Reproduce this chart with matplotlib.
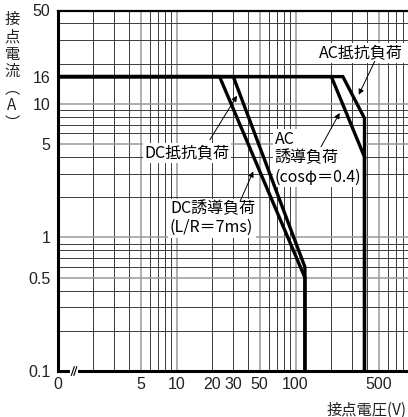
"""Contact rating chart: switching current vs. voltage (log-log)."""

import matplotlib
matplotlib.use('Agg')
import matplotlib.pyplot as plt
import matplotlib.ticker as mticker

plt.rcParams['font.family'] = ['Liberation Sans', 'Noto Sans CJK JP', 'DejaVu Sans']

# curves: voltage (V) / current (A)
dc_ind_v = [1, 23, 120, 120]
dc_ind_i = [16, 16, 0.5, 0.1]
dc_res_v = [1, 30, 120, 120]
dc_res_i = [16, 16, 0.6, 0.1]
ac_ind_v = [1, 200, 380, 380]
ac_ind_i = [16, 16, 4.0, 0.1]
ac_res_v = [1, 250, 380, 380]
ac_res_i = [16, 16, 7.8, 0.1]

x_ticks = [1, 5, 10, 20, 30, 50, 100, 500]
x_labels = ['0', '5', '10', '20', '30', '50', '100', '500']
y_ticks = [0.1, 0.5, 1, 5, 10, 16, 50]
y_labels = ['0.1', '0.5', '1', '5', '10', '16', '50']

JP = ['Noto Sans CJK JP', 'DejaVu Sans']

fig = plt.figure(figsize=(4.08, 4.17), dpi=100)
ax = fig.add_axes([57.5 / 408, 46 / 417, 357 / 408, 360.5 / 417])
ax.set_xscale('log')
ax.set_yscale('log')
ax.set_xlim(1, 1000)
ax.set_ylim(0.1, 50)

# grid: every 1..9 of each decade, 1x and 5x lines lighter
for dec in [1, 10, 100]:
    for m in range(1, 10):
        v = dec * m
        if v == 1:
            continue
        light = m in (1, 5)
        ax.axvline(v, color='#9a9a9a' if light else '#3a3a3a',
                   lw=1.1 if light else 0.7, zorder=1)
for dec in [0.1, 1, 10]:
    for m in range(1, 10):
        v = dec * m
        if v <= 0.1 or v > 50:
            continue
        light = m in (1, 5)
        ax.axhline(v, color='#9a9a9a' if light else '#3a3a3a',
                   lw=1.1 if light else 0.7, zorder=1)

for xs, ys in [(dc_ind_v, dc_ind_i), (dc_res_v, dc_res_i),
               (ac_ind_v, ac_ind_i), (ac_res_v, ac_res_i)]:
    ax.plot(xs, ys, color='black', lw=2.4, solid_joinstyle='miter', zorder=5)

ax.xaxis.set_major_locator(mticker.FixedLocator(x_ticks))
ax.xaxis.set_major_formatter(mticker.FixedFormatter(x_labels))
ax.xaxis.set_minor_locator(mticker.NullLocator())
ax.yaxis.set_major_locator(mticker.FixedLocator(y_ticks))
ax.yaxis.set_major_formatter(mticker.FixedFormatter(y_labels))
ax.yaxis.set_minor_locator(mticker.NullLocator())
ax.tick_params(axis='both', length=0, labelsize=11.5, labelcolor='#222222')
ax.tick_params(axis='x', pad=4)
ax.tick_params(axis='y', pad=5)

for side in ['left', 'bottom']:
    ax.spines[side].set_linewidth(2.2)
ax.spines['top'].set_linewidth(1.6)
ax.spines['right'].set_linewidth(1.6)

# axis break mark on the x axis
ax.plot([0.041, 0.052], [0, 0], transform=ax.transAxes, color='white',
        lw=3, clip_on=False, zorder=6)
for bx in [0.043, 0.050]:
    ax.plot([bx - 0.004, bx + 0.004], [-0.012, 0.012], transform=ax.transAxes,
            color='black', lw=0.8, clip_on=False, zorder=7)

# axis titles
fig.text(12 / 408, 1 - 11 / 417, '\n'.join('接点電流︵A︶'), family=JP,
         fontsize=11, ha='center', va='top', linespacing=1.02, color='#222222')
fig.text(327 / 408, 1 - 410 / 417, '接点電圧(V)', family=JP, fontsize=11,
         ha='left', va='center', color='#222222')

box = dict(facecolor='white', edgecolor='none', pad=1.0)
arrow = dict(arrowstyle='-|>', lw=0.7, color='black', mutation_scale=8,
             shrinkA=0, shrinkB=0)
fs = 11.5

ax.text(355, 24.2, 'AC抵抗負荷', family=JP, fontsize=fs, ha='center',
        va='center', bbox=box, zorder=4)
ax.annotate('', xy=(340, 11.7), xytext=(463, 20.8), arrowprops=arrow, zorder=5)

ax.text(67, 6.3, 'AC\n誘導負荷\n(cosφ＝0.4)', family=JP, fontsize=fs,
        ha='left', va='top', linespacing=1.15, bbox=box, zorder=4)
ax.annotate('', xy=(235, 8.55), xytext=(164, 4.78), arrowprops=arrow, zorder=5)

ax.text(12.3, 4.3, 'DC抵抗負荷', family=JP, fontsize=fs, ha='center',
        va='center', bbox=box, zorder=4)
ax.annotate('', xy=(32.2, 11.5), xytext=(19.1, 5.39), arrowprops=arrow, zorder=5)

ax.text(8.8, 1.9, 'DC誘導負荷\n(L/R＝7ms)', family=JP, fontsize=fs,
        ha='left', va='top', linespacing=1.15, bbox=box, zorder=4)
ax.annotate('', xy=(44.2, 3.12), xytext=(34.2, 1.86), arrowprops=arrow, zorder=5)

fig.savefig('out.png', dpi=100)
